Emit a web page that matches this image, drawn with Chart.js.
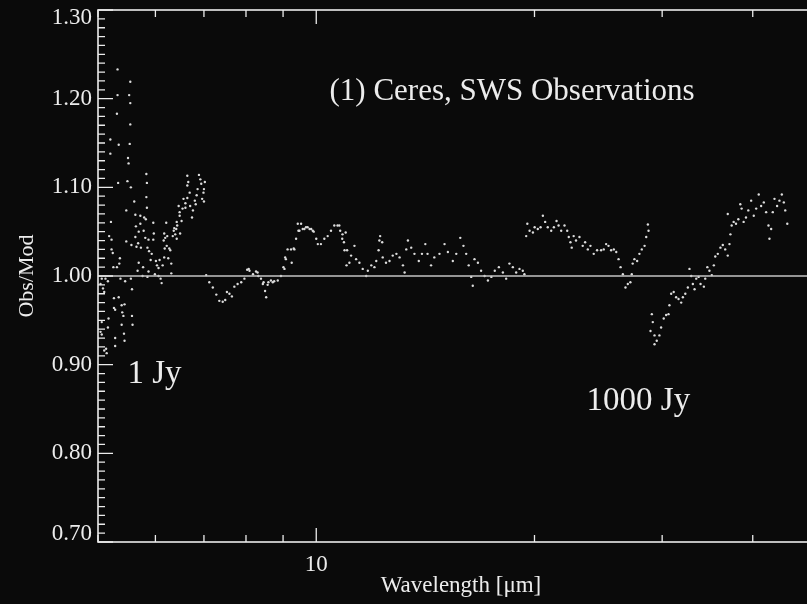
<!DOCTYPE html>
<html>
<head>
<meta charset="utf-8">
<title>Ceres SWS Obs/Mod</title>
<script src="https://cdn.jsdelivr.net/npm/chart.js@4.4.1/dist/chart.umd.min.js"></script>
<style>
  html, body { margin: 0; padding: 0; background: #0a0a0a; overflow: hidden; }
  #wrap { width: 840px; height: 604px; }
</style>
</head>
<body>
<div id="wrap"><canvas id="ratioChart" width="840" height="604"></canvas></div>
<script>
// Obs/Mod ratio per SWS band, wavelength in micron
const band1Wave = [5.32,5.54,5.32,5.52,5.54,5.31,5.54,5.20,5.34,5.53,
  5.20,5.50,5.51,5.83,5.49,5.55,5.33,5.84,5.83,5.61,
  5.84,5.47,5.63,5.72,5.79,5.82,5.21,5.72,5.96,5.64,
  5.69,5.78,5.97,5.18,5.63,5.81,5.22,5.47,5.68,5.87,
  5.96,5.56,5.65,5.73,5.85,5.88,5.22,5.24,5.93,5.91,
  6.01,6.08,5.69,5.36,5.35,5.25,5.31,5.77,6.03,6.06,
  5.67,5.87,5.99,5.76,5.85,6.06,6.10,6.12,5.06,5.12,
  5.16,5.37,5.45,5.55,5.57,5.04,5.08,5.10,5.26,5.34,
  5.26,5.39,5.44,5.28,5.40,5.42,5.57,5.17,5.06,5.39,
  5.58,5.16,5.04,5.43,5.06,5.28,5.44,5.13,5.28,5.14,
  5.10];
const band1Ratio = [1.233,1.219,1.204,1.204,1.195,1.183,1.171,1.154,1.148,1.149,
  1.138,1.133,1.127,1.115,1.107,1.100,1.105,1.105,1.089,1.084,
  1.077,1.074,1.069,1.068,1.066,1.064,1.061,1.059,1.060,1.056,
  1.050,1.051,1.048,1.045,1.044,1.043,1.041,1.039,1.037,1.041,
  1.041,1.035,1.033,1.032,1.032,1.028,1.030,1.026,1.025,1.018,
  1.017,1.018,1.015,1.020,1.014,1.010,1.010,1.010,1.012,1.009,
  1.006,1.005,1.002,1.000,0.999,1.000,0.997,0.992,0.997,0.997,
  0.994,0.997,0.994,0.997,0.985,0.991,0.986,0.982,0.975,0.976,
  0.964,0.967,0.968,0.962,0.959,0.955,0.955,0.952,0.948,0.945,
  0.945,0.942,0.937,0.935,0.934,0.930,0.927,0.918,0.921,0.913,
  0.916];

const band2Wave = [6.21,6.17,6.19,6.23,6.16,6.22,6.18,6.27,6.29,6.17,
  6.25,6.14,6.31,6.31,6.37,6.36,6.41,6.39,6.43,6.49,
  6.34,6.42,6.42,6.48,6.52,6.46,6.48,6.54,6.60,6.56,
  6.64,6.60,6.70,6.76,6.74,6.64,6.66,6.64,6.69,6.80,
  6.84,6.82,6.86,6.89,6.92,6.94,6.99,6.96,7.00,7.00,
  7.02];
const band2Ratio = [1.060,1.048,1.043,1.045,1.040,1.034,1.031,1.031,1.029,1.021,
  1.020,1.012,1.014,1.003,1.054,1.051,1.053,1.047,1.057,1.048,
  1.045,1.042,1.061,1.068,1.062,1.079,1.072,1.076,1.077,1.087,
  1.088,1.082,1.079,1.074,1.066,1.102,1.106,1.113,1.094,1.085,
  1.091,1.081,1.098,1.114,1.109,1.104,1.094,1.087,1.084,1.098,
  1.106];

const band3Wave = [7.05,7.12,7.20,7.28,7.35,7.43,7.49,7.53,7.59,7.65,
  7.71,7.79,7.88,7.96,8.03,8.07,8.09,8.18,8.26,8.30,
  8.32,8.39,8.44,8.46,8.50,8.53,8.57,8.59,8.66,8.71,
  8.75,8.85,8.94,9.01,9.04,9.06,9.08,9.13,9.23,9.25,
  9.31,9.33,9.38,9.43,9.45,9.48,9.53,9.58,9.63,9.68,
  9.73,9.79,9.84,9.89,9.92,10.00,10.05,10.15,10.26,10.37,
  10.48,10.59,10.70,10.76,10.79,10.86,10.87,10.92,10.94,10.98,
  11.01,11.03,11.11,11.17,11.29,11.35,11.47,11.59,11.72,11.78,
  11.91,12.03,12.10,12.19,12.22,12.25,12.33,12.35,12.48,12.62,
  12.75,12.90,13.03,13.17,13.24,13.31,13.38,13.52,13.66,13.85,
  13.99,14.14,14.24,14.40,14.55,14.79,15.03,15.19,15.43,15.60,
  15.80,15.96,16.10,16.23,16.36,16.44,16.53,16.71,16.88,17.07,
  17.25,17.44,17.63,17.86,18.09,18.28,18.47,18.67,18.87,19.07,
  19.27,19.37];
const band3Ratio = [1.001,0.993,0.987,0.979,0.972,0.971,0.973,0.982,0.980,0.977,
  0.988,0.991,0.993,0.997,1.007,1.008,1.006,1.002,1.005,1.004,
  1.000,0.997,0.991,0.993,0.983,0.976,0.990,0.993,0.995,0.993,
  0.994,0.995,1.000,1.010,1.008,1.021,1.019,1.030,1.030,1.015,
  1.031,1.030,1.042,1.059,1.051,1.051,1.059,1.053,1.053,1.055,
  1.055,1.053,1.053,1.051,1.050,1.042,1.036,1.036,1.042,1.045,
  1.051,1.057,1.057,1.057,1.051,1.042,1.047,1.038,1.029,1.049,
  1.012,1.029,1.015,1.023,1.034,1.019,1.015,1.008,1.000,1.006,
  1.012,1.010,1.017,1.029,1.040,1.045,1.038,1.021,1.015,1.017,
  1.023,1.025,1.021,1.012,1.004,1.030,1.040,1.032,1.025,1.017,
  1.025,1.036,1.025,1.012,1.021,1.025,1.036,1.027,1.017,1.025,
  1.043,1.034,1.025,1.012,0.999,0.989,1.019,1.015,1.006,1.000,
  0.995,0.999,1.006,1.010,1.004,0.997,1.014,1.010,1.004,1.008,
  1.006,1.002];

const band4Wave = [19.48,19.55,19.69,19.90,20.01,20.21,20.39,20.54,20.69,20.86,
  21.09,21.27,21.45,21.59,21.77,22.00,22.19,22.30,22.42,22.51,
  22.65,22.82,23.07,23.31,23.49,23.69,23.89,24.14,24.40,24.71,
  24.92,25.11,25.30,25.51,25.73,25.93,26.12,26.29,26.48,26.70,
  26.90,27.12,27.24,27.32,27.47,27.71,27.91,28.12,28.37,28.52,
  28.67,28.73];
const band4Ratio = [1.045,1.059,1.051,1.049,1.055,1.053,1.055,1.068,1.061,1.055,
  1.051,1.055,1.062,1.057,1.051,1.057,1.051,1.044,1.038,1.032,
  1.045,1.040,1.044,1.034,1.038,1.030,1.034,1.025,1.029,1.029,
  1.030,1.036,1.034,1.029,1.030,1.027,1.019,1.010,1.002,0.987,
  0.991,0.993,1.002,1.014,1.019,1.017,1.025,1.030,1.034,1.044,
  1.058,1.051];

const band5Wave = [28.91,29.03,29.12,29.28,29.28,29.49,29.74,29.90,30.15,30.38,
  30.61,30.70,30.87,31.12,31.36,31.60,31.87,32.04,32.29,32.55,
  32.72,32.90,33.07,33.25,33.43,33.68,33.89,34.25,34.40,34.63,
  34.86,35.12,35.35,35.51,35.80,36.10,36.37,36.65,36.95,36.95,
  37.15,37.26,37.41,37.65,37.93,38.21,38.45,38.61,38.86,39.15,
  39.44,39.80,40.13,40.44,40.77,41.08,41.43,41.74,42.05,42.18,
  42.41,42.63,42.86,43.22,43.54,43.87,44.15,44.35,44.64];
const band5Ratio = [0.938,0.957,0.948,0.933,0.923,0.927,0.933,0.942,0.952,0.956,
  0.957,0.967,0.980,0.982,0.976,0.974,0.970,0.976,0.980,0.987,
  1.008,1.000,0.991,0.985,0.997,0.999,0.991,0.988,0.997,1.010,
  1.006,1.001,1.012,1.022,1.025,1.032,1.035,1.030,1.023,1.070,
  1.036,1.047,1.057,1.061,1.059,1.064,1.081,1.076,1.061,1.066,
  1.074,1.085,1.068,1.076,1.092,1.079,1.083,1.072,1.057,1.042,
  1.053,1.072,1.087,1.079,1.085,1.092,1.083,1.074,1.059];

// axes
const waveRange = [5, 50];
const ratioRange = [0.70, 1.30];
const xMajorTicks = [10];
const xMinorTicks = [5, 6, 7, 8, 9, 20, 30, 40];
const xTickLabels = ['10'];
const yMajorTicks = [0.70, 0.80, 0.90, 1.00, 1.10, 1.20, 1.30];
const yTickLabels = ['0.70', '0.80', '0.90', '1.00', '1.10', '1.20', '1.30'];
const unityLevel = 1.0;

const FG = '#ececec';
const SERIF = '"Liberation Serif", "Times New Roman", serif';

function toPoints(w, r) {
  return w.map((v, i) => ({ x: v, y: r[i] }));
}

function dots(w, r) {
  return {
    data: toPoints(w, r),
    pointRadius: 1.2,
    pointBackgroundColor: '#dcdcdc',
    pointBorderWidth: 0,
    showLine: false
  };
}

// frame with inward ticks on all four sides, plus the y labels
const axisFrame = {
  id: 'axisFrame',
  afterDatasetsDraw(chart) {
    const { ctx, chartArea: a, scales: { x, y } } = chart;
    ctx.save();
    ctx.strokeStyle = FG;
    ctx.lineWidth = 1.6;
    ctx.strokeRect(a.left, a.top, a.right - a.left, a.bottom - a.top);
    ctx.lineWidth = 1.3;
    ctx.beginPath();
    for (let k = Math.round(ratioRange[0] * 100); k <= Math.round(ratioRange[1] * 100); k++) {
      const py = y.getPixelForValue(k / 100);
      const len = k % 10 === 0 ? 15 : 7;
      ctx.moveTo(a.left, py); ctx.lineTo(a.left + len, py);
      ctx.moveTo(a.right, py); ctx.lineTo(a.right - len, py);
    }
    const xt = xMinorTicks.map(v => [v, 7]).concat(xMajorTicks.map(v => [v, 14]));
    xt.forEach(([v, len]) => {
      const px = x.getPixelForValue(v);
      ctx.moveTo(px, a.bottom); ctx.lineTo(px, a.bottom - len);
      ctx.moveTo(px, a.top); ctx.lineTo(px, a.top + len);
    });
    ctx.stroke();

    // y labels, end labels kept inside the frame
    ctx.fillStyle = FG;
    ctx.font = '23px ' + SERIF;
    ctx.textAlign = 'right';
    ctx.textBaseline = 'middle';
    yMajorTicks.forEach((v, i) => {
      const py = Math.min(Math.max(y.getPixelForValue(v), a.top + 8), a.bottom - 8);
      ctx.fillText(yTickLabels[i], a.left - 6, py);
    });
    ctx.restore();
  }
};

// in-plot notes and axis titles
const notes = [
  { text: '(1) Ceres, SWS Observations', wave: 10.43, ratio: 1.2075, size: 31 },
  { text: '1 Jy', wave: 5.49, ratio: 0.8895, size: 33 },
  { text: '1000 Jy', wave: 23.6, ratio: 0.859, size: 33 }
];

const annotations = {
  id: 'annotations',
  afterDraw(chart) {
    const { ctx, chartArea: a, scales: { x, y } } = chart;
    ctx.save();
    ctx.fillStyle = FG;
    ctx.textBaseline = 'middle';
    ctx.textAlign = 'left';
    notes.forEach(n => {
      ctx.font = n.size + 'px ' + SERIF;
      ctx.fillText(n.text, x.getPixelForValue(n.wave), y.getPixelForValue(n.ratio));
    });

    ctx.font = '23px ' + SERIF;
    ctx.textAlign = 'center';
    ctx.fillText('Wavelength [\u03bcm]', 461, 586);
    ctx.font = '22px ' + SERIF;
    ctx.translate(27, (a.top + a.bottom) / 2);
    ctx.rotate(-Math.PI / 2);
    ctx.fillText('Obs/Mod', 0, 0);
    ctx.restore();
  }
};

const ctx = document.getElementById('ratioChart').getContext('2d');
new Chart(ctx, {
  type: 'scatter',
  data: {
    datasets: [
      {
        type: 'line',
        data: [{ x: waveRange[0], y: unityLevel }, { x: waveRange[1], y: unityLevel }],
        borderColor: '#c4c4c4',
        borderWidth: 1.4,
        pointRadius: 0
      },
      dots(band1Wave, band1Ratio),
      dots(band2Wave, band2Ratio),
      dots(band3Wave, band3Ratio),
      dots(band4Wave, band4Ratio),
      dots(band5Wave, band5Ratio)
    ]
  },
  options: {
    responsive: false,
    animation: false,
    layout: { padding: { top: 10, right: 17, left: 0, bottom: 0 } },
    plugins: { legend: { display: false }, tooltip: { enabled: false } },
    scales: {
      x: {
        type: 'logarithmic',
        min: waveRange[0],
        max: waveRange[1],
        grid: { display: false, drawTicks: false },
        border: { display: false },
        afterBuildTicks: s => { s.ticks = xMajorTicks.map(v => ({ value: v })); },
        afterFit: s => { s.height = 62; s.paddingLeft = 0; s.paddingRight = 0; },
        ticks: {
          autoSkip: false,
          maxRotation: 0,
          padding: 9,
          color: FG,
          font: { family: SERIF, size: 23 },
          callback: (v, i) => xTickLabels[i]
        }
      },
      y: {
        min: ratioRange[0],
        max: ratioRange[1],
        grid: { display: false, drawTicks: false },
        border: { display: false },
        ticks: { display: false },
        afterFit: s => { s.width = 98; s.paddingTop = 0; s.paddingBottom = 0; }
      }
    }
  },
  plugins: [axisFrame, annotations]
});
</script>
</body>
</html>
